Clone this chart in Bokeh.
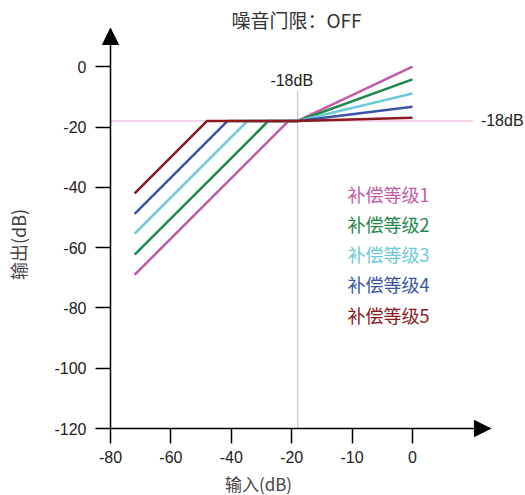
import numpy as np
from bokeh.plotting import figure
from bokeh.models import FixedTicker, Range1d, Label, Arrow, NormalHead
from bokeh.embed import file_html
from bokeh.resources import INLINE

# ---------------- data ----------------
title_text = "噪音门限：OFF"
x_label = "输入(dB)"
y_label = "输出(dB)"

x_tick_db = [-80, -60, -40, -20, -10, 0]          # equally spaced on the drawn axis
y_ticks = [-120, -100, -80, -60, -40, -20, 0]

threshold_out_db = -18        # output level of the flat part
threshold_in_db = -19         # where the knee is drawn on the uneven input axis
threshold_text = "-18dB"

series_names = ["补偿等级1", "补偿等级2", "补偿等级3", "补偿等级4", "补偿等级5"]
series_colors = ["#c35aa6", "#1b8a4a", "#6ccadb", "#3b55a4", "#8a1a1d"]
start_x_db = -72
start_y_db = [-69, -62.3, -55.4, -48.8, -42]
left_knee_x_db = [-21, -27.7, -34.6, -41.2, -48]
end_x_db = 0
end_y_db = [0, -4.2, -8.9, -13.3, -16.9]

hline_end_db = 10     # dotted -18 dB guide continues past 0 dB
vline_top_db = -8     # dotted vertical guide stops here

# ---------------- scale helper: uneven input axis ----------------
tick_pos = list(range(len(x_tick_db)))


def tx(db):
    db = np.asarray(db, dtype=float)
    pos = np.interp(db, x_tick_db, tick_pos)
    last = (x_tick_db[-1] - x_tick_db[-2])
    pos = np.where(db > x_tick_db[-1], tick_pos[-1] + (db - x_tick_db[-1]) / last, pos)
    return pos


FONT = "Liberation Sans"
CJK = "Noto Sans CJK SC"

# axis extents (where the arrow heads end)
x_axis_end = 6.29
y_axis_end = 12.67

W, H = 525, 495
x_range = Range1d(-1.821, 6.871)
y_range = Range1d(-142.22, 21.96)

p = figure(width=W, height=H, min_border=0,
           x_range=x_range, y_range=y_range,
           output_backend="svg", toolbar_location=None)

p.xgrid.visible = False
p.ygrid.visible = False
p.outline_line_color = None
p.background_fill_color = "white"
p.border_fill_color = "white"

for ax in (p.xaxis[0], p.yaxis[0]):
    ax.axis_line_color = "black"
    ax.axis_line_width = 1.5
    ax.major_tick_line_color = "black"
    ax.major_tick_line_width = 1.5
    ax.major_tick_out = 15
    ax.major_tick_in = 0
    ax.minor_tick_line_color = None
    ax.major_label_text_font = FONT
    ax.major_label_text_font_size = "16px"
    ax.major_label_text_color = "#222222"

p.xaxis.fixed_location = y_ticks[0]
p.xaxis.bounds = (0, x_axis_end)
p.xaxis.ticker = FixedTicker(ticks=tick_pos)
p.xaxis.major_label_overrides = {int(i): str(v) for i, v in zip(tick_pos, x_tick_db)}
p.xaxis.major_label_standoff = 7

p.yaxis.fixed_location = 0
p.yaxis.bounds = (y_ticks[0], y_axis_end)
p.yaxis.ticker = FixedTicker(ticks=y_ticks)
p.yaxis.major_label_overrides = {int(v): str(v) for v in y_ticks}
p.yaxis.major_label_standoff = 9

# guides
p.line(tx([x_tick_db[0], hline_end_db]), [threshold_out_db, threshold_out_db],
       line_color="#dc8fcf", line_width=1.5, line_dash="1 1")
p.line(tx([threshold_in_db, threshold_in_db]), [y_ticks[0], vline_top_db],
       line_color="#a9559c", line_width=1, line_dash="1 1")

# compensation curves
for name, c, sy, kx, ey in zip(series_names, series_colors, start_y_db, left_knee_x_db, end_y_db):
    xs = tx([start_x_db, kx, threshold_in_db, end_x_db])
    ys = [sy, threshold_out_db, threshold_out_db, ey]
    p.line(xs, ys, line_color=c, line_width=2.5)

# axis arrows
p.add_layout(Arrow(end=NormalHead(size=16, fill_color="black", line_color="black"),
                   x_start=0, y_start=y_ticks[0], x_end=x_axis_end, y_end=y_ticks[0],
                   line_alpha=0))
p.add_layout(Arrow(end=NormalHead(size=16, fill_color="black", line_color="black"),
                   x_start=0, y_start=y_ticks[0], x_end=0, y_end=y_axis_end,
                   line_alpha=0))

# -18dB labels
p.add_layout(Label(x=float(tx(threshold_in_db)), y=vline_top_db, text=threshold_text,
                   x_offset=-6, y_offset=2, text_align="center", text_baseline="bottom",
                   text_font=FONT, text_font_size="16px", text_color="#222222"))
p.add_layout(Label(x=float(tx(hline_end_db)), y=threshold_out_db, text=threshold_text,
                   x_offset=8, text_align="left", text_baseline="middle",
                   text_font=FONT, text_font_size="16px", text_color="#222222"))

# legend texts (coloured)
for i, (name, c) in enumerate(zip(series_names, series_colors)):
    p.add_layout(Label(x=347, y=302 - i * 30.3, x_units="screen", y_units="screen",
                       text=name, text_align="left", text_baseline="middle",
                       text_font=CJK, text_font_size="18px", text_color=c))

# title and axis titles
p.add_layout(Label(x=296, y=476, x_units="screen", y_units="screen", text=title_text,
                   text_align="center", text_baseline="middle",
                   text_font=CJK, text_font_size="19px", text_color="#333333"))
p.add_layout(Label(x=258, y=12, x_units="screen", y_units="screen", text=x_label,
                   text_align="center", text_baseline="middle",
                   text_font=CJK, text_font_size="17px", text_color="#444444"))
p.add_layout(Label(x=17, y=251, x_units="screen", y_units="screen", text=y_label,
                   angle=np.pi / 2, text_align="center", text_baseline="middle",
                   text_font=CJK, text_font_size="18px", text_color="#444444"))

open("out.html", "w").write(file_html(p, INLINE))
